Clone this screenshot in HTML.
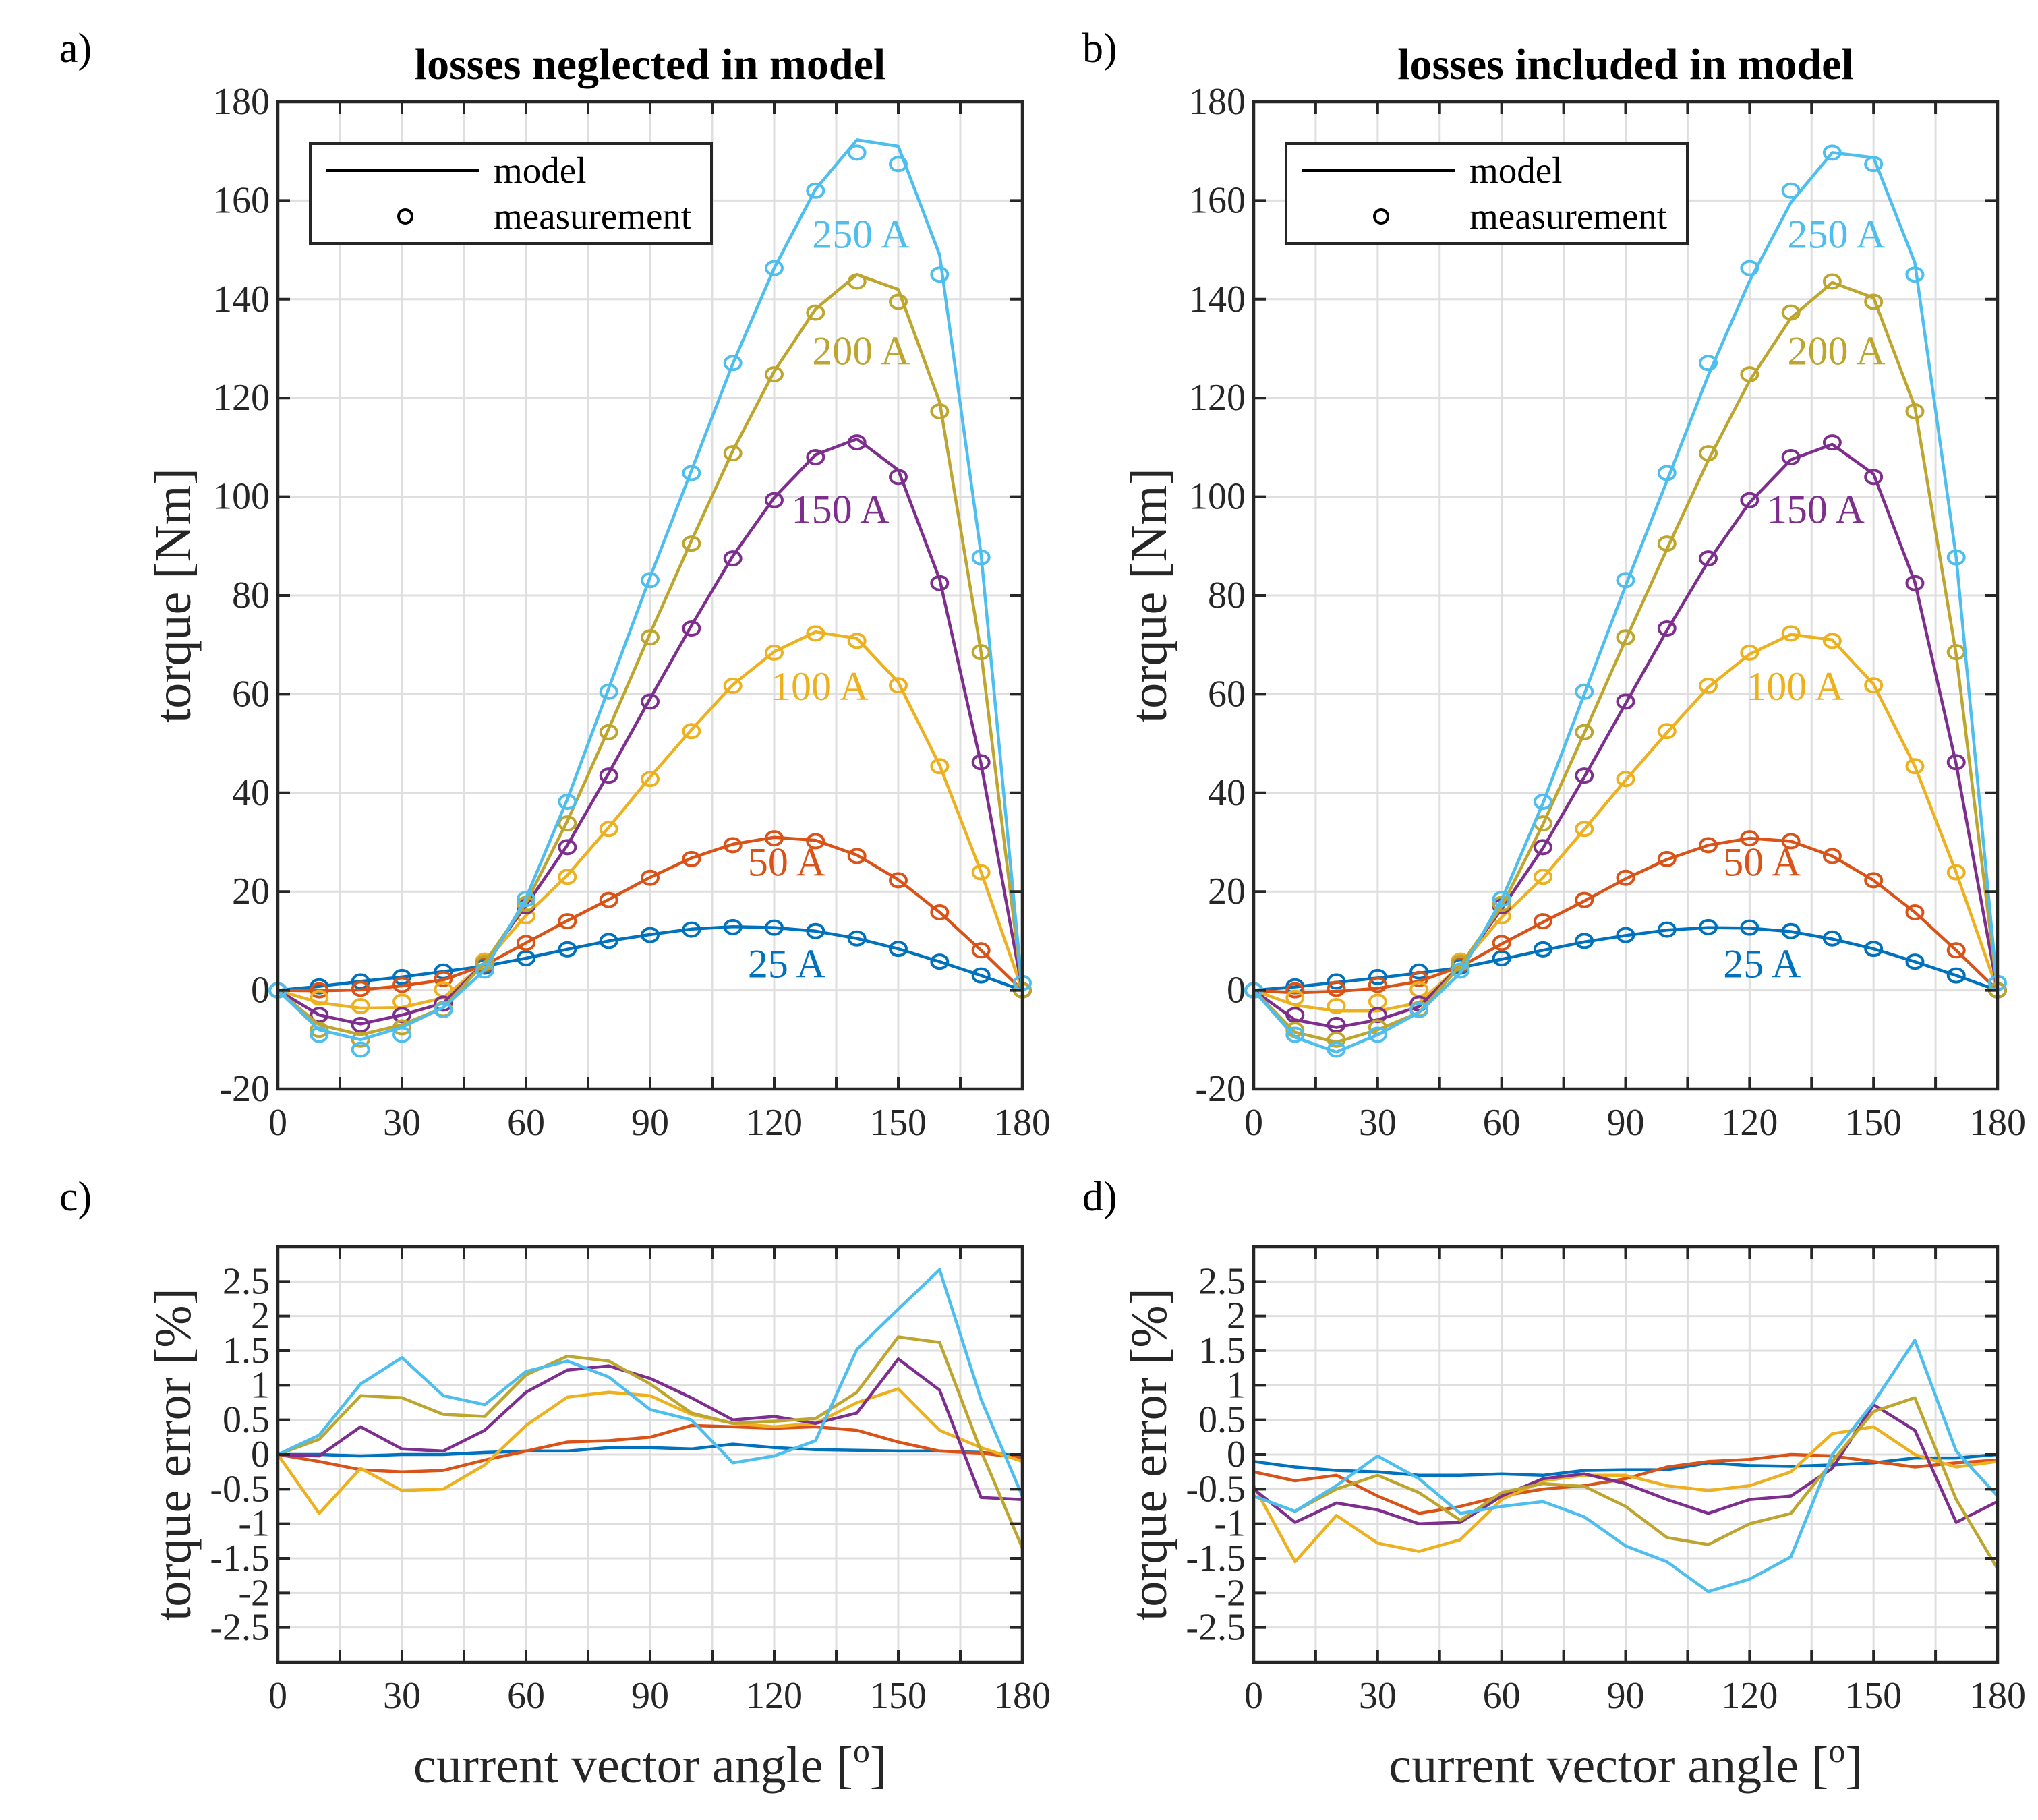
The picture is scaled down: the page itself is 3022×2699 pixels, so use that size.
<!DOCTYPE html>
<html><head><meta charset="utf-8"><style>
html,body{margin:0;padding:0;background:#fff;}
svg{display:block;font-family:"Liberation Serif",serif;}
</style></head><body>
<svg id="fig" width="3022" height="2699" viewBox="0 0 3022 2699" xmlns="http://www.w3.org/2000/svg">
<rect width="3022" height="2699" fill="#fff"/>
</svg>
<script>
const angles=[0,10,20,30,40,50,60,70,80,90,100,110,120,130,140,150,160,170,180];
const seriesNames=['25 A','50 A','100 A','150 A','200 A','250 A'];
const colors=['#0072BD','#D95319','#EDB120','#7E2F8E','#BDA52E','#4DBEEE'];
// measurements (Nm)
const meas25=[0,0.8,1.8,2.7,3.8,4.8,6.5,8.3,10,11.2,12.3,12.8,12.7,12,10.5,8.4,5.8,3,0];
const meas50=[0,0,0.3,1.1,2.3,5.2,9.6,14,18.3,22.8,26.6,29.4,30.8,30.2,27.2,22.3,15.8,8.1,0];
const meas100=[0,-1.5,-3.2,-2.3,0.2,6,15,23,32.7,42.8,52.5,61.7,68.4,72.3,70.8,61.8,45.4,23.9,0];
const meas150=[0,-5,-7,-5,-2.7,5.5,17,29,43.5,58.5,73.3,87.5,99.3,108,111,104,82.5,46.2,0];
const meas200=[0,-8,-10,-7.5,-3.8,5.5,17.5,33.8,52.3,71.5,90.5,108.8,124.8,137.3,143.6,139.5,117.3,68.5,0];
const meas250=[0,-9,-12,-9,-4,4,18.5,38.2,60.5,83.1,104.8,127.1,146.3,162,169.7,167.4,145,87.7,1.5];
// model, losses neglected
const modA25=[0,0.8,1.8,2.7,3.8,4.9,6.5,8.3,10,11.3,12.4,12.9,12.7,12,10.5,8.4,5.8,3,0];
const modA50=[0,-0.1,0.1,0.9,2.1,5.1,9.6,14.1,18.4,22.9,26.8,29.6,31,30.4,27.4,22.4,15.8,8.1,0];
const modA100=[0,-2.5,-3.6,-3.5,-1.5,5.5,15.2,23.3,33,43.2,52.8,61.9,68.6,72.6,71.3,62.4,45.6,24,0];
const modA150=[0,-5,-6.8,-5,-2.6,5.6,17.2,29.4,44,59.1,73.9,88,99.8,108.5,111.7,105.4,83.3,45.9,0];
const modA200=[0,-7,-9,-7,-3.5,5.6,17.7,34.3,53,72.3,91.1,109.3,125.4,138,145,142,119.2,68.5,0];
const modA250=[0,-8,-10,-7.5,-3.5,4.1,18.7,38.7,61.2,83.7,105.3,127,146.3,162.3,172.3,171,149,88.4,0];
// model, losses included
const modB25=[0,0.7,1.6,2.5,3.5,4.6,6.3,8.1,9.8,11.1,12.2,12.7,12.6,11.9,10.4,8.4,5.8,3,0];
const modB50=[0,-0.5,-0.2,0.4,1.8,4.8,9.4,13.8,18.1,22.6,26.5,29.4,30.8,30.2,27.2,22.3,15.8,8.1,0];
const modB100=[0,-3,-4.2,-4.2,-2.5,5,14.8,22.8,32.6,42.6,52.2,61.4,68.1,72.1,71,62,45.4,23.9,0];
const modB150=[0,-6,-7.5,-6,-3.3,5,16.5,28.8,43.2,58.1,72.9,86.9,98.8,107.5,110.6,104.6,82.7,45.8,0];
const modB200=[0,-8.5,-10.5,-8,-4.5,5,17,33.6,52.1,71,89.4,107.4,123.5,136.2,143.4,140.3,118.2,68,0];
const modB250=[0,-9.5,-12.5,-9,-4.5,3.5,18.3,37.9,60,82,103.2,124.6,143.7,159.6,169.7,168.7,147.4,87.7,0];
// errors (%)
const errC25=[0,0,-0.02,0,0,0.03,0.05,0.05,0.1,0.1,0.08,0.15,0.1,0.07,0.06,0.05,0.05,0.03,-0.02];
const errC50=[0,-0.1,-0.22,-0.25,-0.23,-0.08,0.05,0.18,0.2,0.25,0.42,0.4,0.38,0.4,0.35,0.18,0.05,0.02,-0.05];
const errC100=[0,-0.85,-0.2,-0.52,-0.5,-0.15,0.42,0.83,0.9,0.85,0.58,0.45,0.4,0.45,0.75,0.95,0.35,0.1,-0.1];
const errC150=[0,-0.02,0.4,0.08,0.05,0.35,0.9,1.22,1.28,1.1,0.82,0.5,0.55,0.45,0.6,1.38,0.93,-0.62,-0.65];
const errC200=[0,0.22,0.85,0.82,0.58,0.55,1.15,1.42,1.35,1.02,0.6,0.45,0.48,0.52,0.9,1.7,1.62,0.05,-1.35];
const errC250=[0,0.28,1.02,1.4,0.85,0.72,1.2,1.35,1.12,0.65,0.5,-0.12,-0.02,0.2,1.52,2.1,2.67,0.8,-0.6];
const errD25=[-0.1,-0.18,-0.23,-0.25,-0.3,-0.3,-0.28,-0.3,-0.23,-0.22,-0.22,-0.12,-0.16,-0.17,-0.15,-0.12,-0.05,-0.05,0];
const errD50=[-0.25,-0.38,-0.3,-0.6,-0.85,-0.75,-0.6,-0.5,-0.45,-0.35,-0.18,-0.1,-0.07,0,-0.02,-0.1,-0.18,-0.12,-0.08];
const errD100=[-0.45,-1.55,-0.88,-1.28,-1.4,-1.23,-0.65,-0.38,-0.3,-0.3,-0.45,-0.52,-0.45,-0.25,0.3,0.4,0,-0.18,-0.1];
const errD150=[-0.5,-0.98,-0.7,-0.8,-1,-0.98,-0.6,-0.35,-0.28,-0.42,-0.65,-0.85,-0.65,-0.6,-0.2,0.72,0.35,-0.98,-0.68];
const errD200=[-0.6,-0.82,-0.5,-0.3,-0.55,-0.95,-0.55,-0.42,-0.46,-0.75,-1.2,-1.3,-1,-0.85,-0.1,0.62,0.82,-0.65,-1.65];
const errD250=[-0.6,-0.82,-0.45,-0.02,-0.35,-0.85,-0.75,-0.68,-0.9,-1.32,-1.55,-1.98,-1.8,-1.48,0,0.75,1.65,0.05,-0.6];
const xTicks=[0,30,60,90,120,150,180];
const yTicksTop=[-20,0,20,40,60,80,100,120,140,160,180];
const yTicksBot=[-2.5,-2,-1.5,-1,-0.5,0,0.5,1,1.5,2,2.5];
const labelX=[123,123,131,136,141,141];
const labelY=[5.2,25.8,61.4,97.3,129.4,153];

const NS='http://www.w3.org/2000/svg';
const svg=document.getElementById('fig');
function mk(tag,attrs,parent){const e=document.createElementNS(NS,tag);for(const k in attrs)e.setAttribute(k,attrs[k]);(parent||svg).appendChild(e);return e;}

function panel(opt){
  const g=mk('g',{});
  
  
  const L=opt.x0,R=opt.x1,T=opt.y0,B=opt.y1;
  const sx=v=>L+(v-0)/180*(R-L);
  const sy=v=>B-(v-opt.ymin)/(opt.ymax-opt.ymin)*(B-T);
  for(let a=0;a<=180;a+=15){mk('line',{x1:sx(a),x2:sx(a),y1:T,y2:B,stroke:'#dfdfdf','stroke-width':3},g);}
  opt.gridY.forEach(v=>mk('line',{x1:L,x2:R,y1:sy(v),y2:sy(v),stroke:'#dfdfdf','stroke-width':3},g));
  for(let s=0;s<6;s++){
    const vals=opt.lines[s];
    const pts=angles.map((a,i)=>sx(a).toFixed(1)+','+sy(vals[i]).toFixed(1)).join(' ');
    const pl=mk('polyline',{points:pts,fill:'none',stroke:colors[s],'stroke-width':4.5,'stroke-linejoin':'round'},g);
    
    
    if(opt.meas){
      const mv=opt.meas[s];
      angles.forEach((a,i)=>{
        const c=mk('ellipse',{cx:sx(a),cy:sy(mv[i]),rx:12,ry:10,fill:'none',stroke:colors[s],'stroke-width':4},g);
        
        
      });
    }
    if(opt.labels){
      const t=mk('text',{x:sx(labelX[s]),y:sy(labelY[s])+19,'text-anchor':'middle','font-size':60,fill:colors[s]},g);
      t.textContent=seriesNames[s];
      
      
    }
  }
  for(let a=0;a<=180;a+=15){
    mk('line',{x1:sx(a),x2:sx(a),y1:B,y2:B-18,stroke:'#262626','stroke-width':4},g);
    mk('line',{x1:sx(a),x2:sx(a),y1:T,y2:T+18,stroke:'#262626','stroke-width':4},g);
  }
  opt.yTicks.forEach(v=>{
    mk('line',{x1:L,x2:L+18,y1:sy(v),y2:sy(v),stroke:'#262626','stroke-width':4},g);
    mk('line',{x1:R,x2:R-18,y1:sy(v),y2:sy(v),stroke:'#262626','stroke-width':4},g);
    const t=mk('text',{x:L-12,y:sy(v)+18,'text-anchor':'end','font-size':56,fill:'#262626'},g);
    t.textContent=String(v);
    
    
  });
  xTicks.forEach(v=>{
    const t=mk('text',{x:sx(v),y:B+68,'text-anchor':'middle','font-size':56,fill:'#262626'},g);
    t.textContent=String(v);
    
    
  });
  const box=mk('rect',{x:L,y:T,width:R-L,height:B-T,fill:'none',stroke:'#262626','stroke-width':4.5},g);
  
  
  const yl=mk('text',{x:0,y:0,'text-anchor':'middle','font-size':76,fill:'#262626',transform:`translate(${L-130},${(T+B)/2}) rotate(-90)`},g);
  yl.textContent=opt.ylabel;
  
  
  if(opt.title){
    const t=mk('text',{x:(L+R)/2,y:T-34,'text-anchor':'middle','font-size':66,'font-weight':'bold',fill:'#000'},g);
    t.textContent=opt.title;
    
    
  }
  if(opt.xlabel){
    const t=mk('text',{x:(L+R)/2,y:B+178,'text-anchor':'middle','font-size':76,fill:'#262626'},g);
    t.innerHTML='current vector angle [<tspan dy="-30" font-size="50">o</tspan><tspan dy="30">]</tspan>';
    
    
  }
  if(opt.legend){
    const lg=mk('g',{},g);
    
    
    const lx=L+48;
    mk('rect',{x:lx,y:T+62,width:595,height:148,fill:'#fff',stroke:'#262626','stroke-width':4},lg);
    mk('line',{x1:lx+23,x2:lx+251,y1:T+102,y2:T+102,stroke:'#000','stroke-width':4},lg);
    const t1=mk('text',{x:lx+272,y:T+120,'font-size':55,fill:'#000'},lg);t1.textContent='model';
    
    
    mk('ellipse',{cx:lx+141,cy:T+170,rx:10,ry:10,fill:'none',stroke:'#000','stroke-width':4},lg);
    const t2=mk('text',{x:lx+272,y:T+188,'font-size':55,fill:'#000'},lg);t2.textContent='measurement';
    
    
  }
  const pl=mk('text',{x:opt.lx,y:opt.ly,'font-size':62,fill:'#000'});
  pl.textContent=opt.plabel;
  
  
}
const measAll=[meas25,meas50,meas100,meas150,meas200,meas250];
panel({name:'panel-a',x0:412,x1:1516,y0:151,y1:1615,ymin:-20,ymax:180,gridY:yTicksTop,yTicks:yTicksTop,
  lines:[modA25,modA50,modA100,modA150,modA200,modA250],meas:measAll,labels:true,legend:true,
  ylabel:'torque [Nm]',title:'losses neglected in model',plabel:'a)',lx:88,ly:92});
panel({name:'panel-b',x0:1859,x1:2962,y0:151,y1:1615,ymin:-20,ymax:180,gridY:yTicksTop,yTicks:yTicksTop,
  lines:[modB25,modB50,modB100,modB150,modB200,modB250],meas:measAll,labels:true,legend:true,
  ylabel:'torque [Nm]',title:'losses included in model',plabel:'b)',lx:1605,ly:92});
panel({name:'panel-c',x0:412,x1:1516,y0:1849,y1:2465,ymin:-3,ymax:3,gridY:yTicksBot,yTicks:yTicksBot,
  lines:[errC25,errC50,errC100,errC150,errC200,errC250],ylabel:'torque error [%]',xlabel:true,plabel:'c)',lx:88,ly:1795});
panel({name:'panel-d',x0:1859,x1:2962,y0:1849,y1:2465,ymin:-3,ymax:3,gridY:yTicksBot,yTicks:yTicksBot,
  lines:[errD25,errD50,errD100,errD150,errD200,errD250],ylabel:'torque error [%]',xlabel:true,plabel:'d)',lx:1605,ly:1795});
</script>
</body></html>
